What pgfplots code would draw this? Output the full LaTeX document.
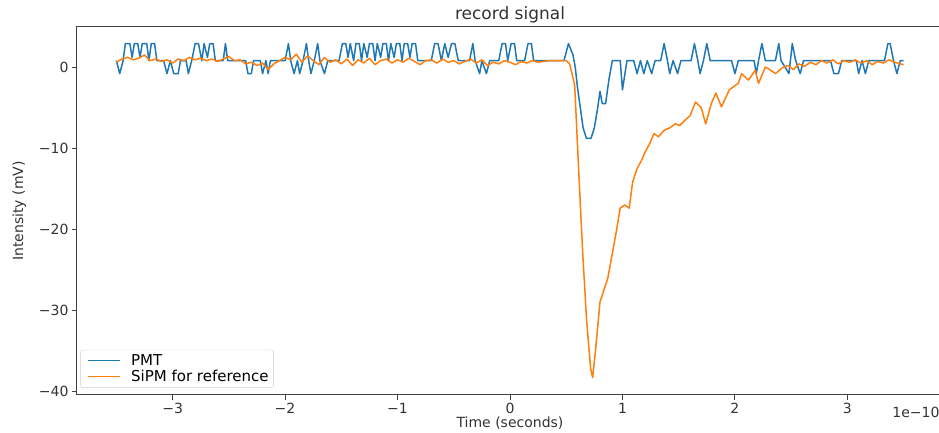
\documentclass[border=0pt]{standalone}
\usepackage{pgfplots}
\pgfplotsset{compat=1.18}
\usepackage{fontspec}
\setmainfont{DejaVu Sans}
\definecolor{mplblue}{HTML}{1F77B4}
\definecolor{mplorange}{HTML}{FF7F0E}
\begin{document}
\begin{tikzpicture}
\begin{axis}[
  name=ax, at={(0,0)}, anchor=south west,
  scale only axis, width=866pt, height=368pt,
  xmin=-3.85, xmax=3.85, ymin=-40.45, ymax=4.95,
  xtick={-3,-2,-1,0,1,2,3}, xticklabels={−3,−2,−1,0,1,2,3},
  ytick={-40,-30,-20,-10,0}, yticklabels={−40,−30,−20,−10,0},
  tick align=outside, major tick length=5pt,
  xtick pos=bottom, ytick pos=left,
  tick style={black!75, line width=0.9pt},
  axis line style={black!75, line width=1pt},
  ticklabel style={font=\fontsize{14}{16}\selectfont, text=black!80},
  xlabel={Time (seconds)}, ylabel={Intensity (mV)},
  label style={font=\fontsize{14}{16}\selectfont, text=black!80},
  xlabel style={yshift=4pt},
  ylabel style={yshift=6pt},
  title={record signal},
  title style={font=\fontsize{17}{19}\selectfont, text=black!80, yshift=-6pt},
  legend style={at={(0.004,0.02)}, anchor=south west, draw=black!20,
    rounded corners=2pt, font=\fontsize{15}{16}\selectfont, fill=white,
    inner xsep=3pt, inner ysep=2.3pt, row sep=-0.5pt},
  legend cell align=left,
  legend image code/.code={\draw[#1, draw opacity=0] (0pt,0pt) -- (44pt,0pt); \draw[#1, line width=1.6pt] (4pt,0pt) -- (36pt,0pt);},
  every axis plot/.append style={line width=1.5pt, line join=round},
]
\addlegendimage{mplblue}
\addlegendentry{PMT}
\addlegendimage{mplorange}
\addlegendentry{SiPM for reference}
\addplot[mplblue, forget plot] table {
x y
-3.50 0.8
-3.47 -0.8
-3.44 0.8
-3.42 2.9
-3.38 2.9
-3.36 1.2
-3.34 2.9
-3.31 2.9
-3.29 1.2
-3.27 2.9
-3.23 2.9
-3.21 0.8
-3.19 2.9
-3.16 2.9
-3.14 0.8
-3.08 0.8
-3.05 -0.8
-3.02 0.8
-2.99 -0.8
-2.95 -0.8
-2.93 0.8
-2.88 0.8
-2.86 -0.8
-2.83 0.8
-2.80 2.9
-2.77 2.9
-2.74 0.8
-2.72 2.9
-2.69 1.2
-2.67 2.9
-2.64 2.9
-2.62 0.8
-2.55 0.8
-2.53 2.9
-2.51 0.8
-2.35 0.8
-2.33 -0.8
-2.30 -0.8
-2.28 0.8
-2.22 0.8
-2.20 -0.8
-2.17 0.8
-2.15 -0.8
-2.13 0.8
-2.00 0.8
-1.97 2.9
-1.95 0.8
-1.92 -0.8
-1.89 0.8
-1.87 -0.8
-1.84 0.8
-1.81 2.9
-1.79 0.8
-1.77 -0.8
-1.74 0.8
-1.71 2.9
-1.69 0.8
-1.65 -0.8
-1.62 0.8
-1.52 0.8
-1.49 2.9
-1.46 2.9
-1.44 1.2
-1.42 2.9
-1.39 0.8
-1.37 2.9
-1.34 2.9
-1.32 0.8
-1.30 2.9
-1.27 1.2
-1.25 2.9
-1.22 2.9
-1.20 0.8
-1.18 2.9
-1.15 1.2
-1.13 2.9
-1.10 2.9
-1.08 0.8
-1.06 2.9
-1.03 1.2
-1.01 2.9
-0.98 2.9
-0.96 0.8
-0.94 2.9
-0.91 2.9
-0.89 1.2
-0.87 2.9
-0.84 2.9
-0.82 0.8
-0.70 0.8
-0.67 2.9
-0.64 2.9
-0.61 0.8
-0.58 2.9
-0.55 1.2
-0.52 2.9
-0.49 2.9
-0.46 0.8
-0.36 0.8
-0.33 2.9
-0.31 0.8
-0.27 -0.8
-0.25 0.8
-0.21 -0.8
-0.18 0.8
-0.10 0.8
-0.07 2.9
-0.04 2.9
-0.02 0.8
0.01 2.9
0.04 2.9
0.06 0.8
0.13 0.8
0.16 2.9
0.19 2.9
0.21 0.8
0.48 0.8
0.52 2.9
0.56 1.5
0.58 0.0
0.60 -2.5
0.63 -5.5
0.65 -7.5
0.68 -8.8
0.72 -8.8
0.75 -7.5
0.78 -5.0
0.80 -3.0
0.82 -4.5
0.85 -4.5
0.88 -1.5
0.91 0.8
0.98 0.8
1.00 -2.8
1.04 0.8
1.10 0.8
1.13 -0.8
1.16 0.8
1.19 -0.8
1.22 0.8
1.26 -0.8
1.29 0.8
1.34 0.8
1.37 2.9
1.40 0.8
1.42 -0.8
1.45 0.8
1.49 -0.8
1.52 0.8
1.61 0.8
1.64 2.9
1.67 0.8
1.69 -0.8
1.72 0.8
1.75 2.9
1.78 0.8
1.97 0.8
2.00 -0.8
2.03 0.8
2.17 0.8
2.19 -0.8
2.21 0.8
2.24 2.9
2.27 0.8
2.36 0.8
2.39 2.9
2.41 0.8
2.48 -0.8
2.51 2.9
2.54 0.8
2.58 -0.8
2.61 0.8
2.85 0.8
2.88 -0.8
2.92 -0.8
2.95 0.8
3.08 0.8
3.10 -0.8
3.13 0.8
3.16 -0.8
3.19 0.8
3.33 0.8
3.36 2.9
3.38 2.9
3.41 0.8
3.44 -0.8
3.47 0.8
3.50 0.8
};
\addplot[mplorange, forget plot] table {
x y
-3.50 0.6
-3.45 1.0
-3.40 1.2
-3.35 0.9
-3.30 1.1
-3.25 1.5
-3.20 0.8
-3.15 1.0
-3.10 0.7
-3.05 0.9
-3.00 0.5
-2.95 1.0
-2.90 0.8
-2.85 1.2
-2.80 0.9
-2.75 1.1
-2.70 0.8
-2.65 1.0
-2.60 0.7
-2.55 1.0
-2.50 1.3
-2.45 0.8
-2.40 0.9
-2.35 0.4
-2.30 0.6
-2.25 0.2
-2.20 0.5
-2.15 -0.3
-2.10 0.4
-2.05 0.8
-2.00 1.2
-1.95 0.9
-1.90 1.6
-1.85 0.6
-1.80 1.4
-1.75 0.8
-1.70 0.3
-1.65 1.2
-1.60 0.6
-1.55 0.9
-1.50 0.4
-1.45 1.0
-1.40 0.2
-1.35 0.9
-1.30 0.5
-1.25 1.1
-1.20 0.3
-1.15 0.8
-1.10 1.0
-1.05 0.5
-1.00 0.9
-0.95 0.6
-0.90 1.1
-0.85 0.7
-0.80 0.3
-0.75 0.8
-0.70 0.9
-0.65 0.5
-0.60 1.0
-0.55 0.6
-0.50 0.8
-0.45 0.4
-0.40 0.7
-0.35 1.0
-0.30 0.5
-0.25 0.9
-0.20 0.2
-0.15 0.6
-0.10 0.4
-0.05 0.8
0.00 0.6
0.05 0.3
0.10 0.7
0.15 0.5
0.20 0.8
0.25 0.6
0.30 0.7
0.35 0.8
0.40 0.8
0.45 0.8
0.50 0.8
0.53 0.4
0.575 -2.2
0.61 -12.5
0.646 -22.8
0.68 -31.0
0.717 -37.2
0.735 -38.3
0.76 -35.0
0.79 -30.5
0.80 -29.0
0.87 -26.0
0.94 -20.7
0.98 -17.4
1.02 -17.0
1.06 -17.4
1.09 -14.2
1.13 -12.5
1.17 -11.5
1.20 -10.5
1.24 -9.5
1.28 -8.2
1.32 -8.6
1.37 -7.8
1.42 -7.5
1.47 -7.0
1.51 -7.2
1.56 -6.5
1.60 -6.0
1.65 -4.3
1.70 -5.0
1.74 -7.0
1.79 -4.5
1.83 -3.2
1.88 -4.9
1.95 -2.8
2.03 -2.0
2.06 -0.8
2.12 -1.6
2.18 -0.4
2.21 -2.0
2.27 0.0
2.31 -0.3
2.36 -0.8
2.42 -0.1
2.47 0.2
2.52 -0.3
2.57 0.4
2.62 0.1
2.67 0.6
2.72 0.3
2.77 0.8
2.82 0.5
2.87 0.9
2.92 0.4
2.97 0.8
3.02 0.6
3.07 0.9
3.12 0.5
3.17 0.8
3.22 0.3
3.27 0.7
3.32 0.5
3.37 0.9
3.42 0.6
3.47 0.4
3.50 0.3
};
\end{axis}
\node[anchor=north east, yshift=-9pt, font=\fontsize{14}{16}\selectfont, text=black!80] at (ax.south east) {1e−10};
\pgfresetboundingbox
\useasboundingbox (-77pt,-38pt) rectangle (862pt,395pt);
\end{tikzpicture}
\end{document}
